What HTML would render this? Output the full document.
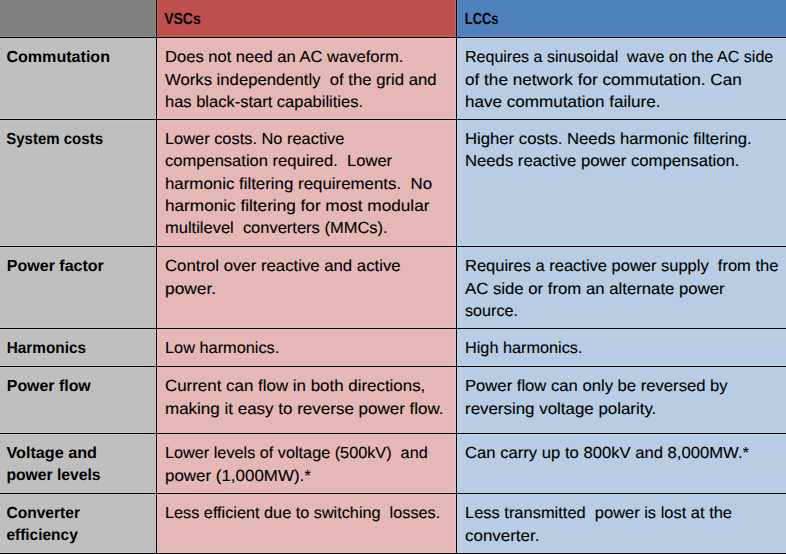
<!DOCTYPE html><html><head><meta charset="utf-8"><style>html,body{margin:0;padding:0;background:#fff;overflow:hidden}svg{display:block}text{text-rendering:geometricPrecision;font-family:"Liberation Sans",sans-serif;font-size:16px;fill:#000;stroke:#000;stroke-width:0.12px}.b{font-weight:bold;stroke-width:0px}</style></head><body>
<svg width="786" height="554" viewBox="0 0 786 554">
<rect x="0" y="0" width="156" height="37" fill="#7F7F7F"/>
<rect x="157" y="0" width="299" height="37" fill="#C0504D"/>
<rect x="457" y="0" width="329" height="37" fill="#4F81BD"/>
<rect x="0" y="38" width="156" height="516" fill="#BFBFBF"/>
<rect x="157" y="38" width="299" height="516" fill="#E5B8B7"/>
<rect x="457" y="38" width="329" height="516" fill="#B8CCE4"/>
<rect x="0" y="36" width="786" height="1" fill="#fff" fill-opacity="0.1"/>
<rect x="0" y="38" width="786" height="1" fill="#fff" fill-opacity="0.1"/>
<rect x="0" y="118" width="786" height="1" fill="#fff" fill-opacity="0.1"/>
<rect x="0" y="120" width="786" height="1" fill="#fff" fill-opacity="0.1"/>
<rect x="0" y="245" width="786" height="1" fill="#fff" fill-opacity="0.1"/>
<rect x="0" y="247" width="786" height="1" fill="#fff" fill-opacity="0.1"/>
<rect x="0" y="327" width="786" height="1" fill="#fff" fill-opacity="0.1"/>
<rect x="0" y="329" width="786" height="1" fill="#fff" fill-opacity="0.1"/>
<rect x="0" y="365" width="786" height="1" fill="#fff" fill-opacity="0.1"/>
<rect x="0" y="367" width="786" height="1" fill="#fff" fill-opacity="0.1"/>
<rect x="0" y="432" width="786" height="1" fill="#fff" fill-opacity="0.1"/>
<rect x="0" y="434" width="786" height="1" fill="#fff" fill-opacity="0.1"/>
<rect x="0" y="492" width="786" height="1" fill="#fff" fill-opacity="0.1"/>
<rect x="0" y="494" width="786" height="1" fill="#fff" fill-opacity="0.1"/>
<rect x="0" y="552" width="786" height="1" fill="#fff" fill-opacity="0.1"/>
<rect x="155" y="0" width="1" height="554" fill="#fff" fill-opacity="0.1"/>
<rect x="157" y="0" width="1" height="554" fill="#fff" fill-opacity="0.1"/>
<rect x="455" y="0" width="1" height="554" fill="#fff" fill-opacity="0.1"/>
<rect x="457" y="0" width="1" height="554" fill="#fff" fill-opacity="0.1"/>
<rect x="0" y="37" width="786" height="1" fill="#000"/>
<rect x="0" y="119" width="786" height="1" fill="#000"/>
<rect x="0" y="246" width="786" height="1" fill="#000"/>
<rect x="0" y="328" width="786" height="1" fill="#000"/>
<rect x="0" y="366" width="786" height="1" fill="#000"/>
<rect x="0" y="433" width="786" height="1" fill="#000"/>
<rect x="0" y="493" width="786" height="1" fill="#000"/>
<rect x="0" y="553" width="786" height="1" fill="#000"/>
<rect x="156" y="0" width="1" height="554" fill="#000"/>
<rect x="456" y="0" width="1" height="554" fill="#000"/>
<text class="b" x="164.20" y="24" textLength="36.59" lengthAdjust="spacingAndGlyphs" xml:space="preserve">VSCs</text>
<text class="b" x="464.80" y="24" textLength="33.66" lengthAdjust="spacingAndGlyphs" xml:space="preserve">LCCs</text>
<text class="b" x="6.40" y="62" textLength="103.60" lengthAdjust="spacingAndGlyphs" xml:space="preserve">Commutation</text>
<text class="b" x="6.20" y="143.5" textLength="96.81" lengthAdjust="spacingAndGlyphs" xml:space="preserve">System costs</text>
<text class="b" x="6.80" y="270.8" textLength="97.02" lengthAdjust="spacingAndGlyphs" xml:space="preserve">Power factor</text>
<text class="b" x="6.80" y="352.8" textLength="79.12" lengthAdjust="spacingAndGlyphs" xml:space="preserve">Harmonics</text>
<text class="b" x="6.80" y="390.5" textLength="83.93" lengthAdjust="spacingAndGlyphs" xml:space="preserve">Power flow</text>
<text class="b" x="6.40" y="457.5" textLength="90.62" lengthAdjust="spacingAndGlyphs" xml:space="preserve">Voltage and</text>
<text class="b" x="6.40" y="480.2" textLength="94.12" lengthAdjust="spacingAndGlyphs" xml:space="preserve">power levels</text>
<text class="b" x="6.40" y="517.5" textLength="73.62" lengthAdjust="spacingAndGlyphs" xml:space="preserve">Converter</text>
<text class="b" x="6.40" y="540.3" textLength="71.36" lengthAdjust="spacingAndGlyphs" xml:space="preserve">efficiency</text>
<text x="165.00" y="62" textLength="238.40" lengthAdjust="spacingAndGlyphs" xml:space="preserve">Does not need an AC waveform.</text>
<text x="165.00" y="84.8" textLength="271.50" lengthAdjust="spacingAndGlyphs" xml:space="preserve">Works independently  of the grid and</text>
<text x="165.00" y="107" textLength="197.99" lengthAdjust="spacingAndGlyphs" xml:space="preserve">has black-start capabilities.</text>
<text x="465.00" y="62" textLength="308.20" lengthAdjust="spacingAndGlyphs" xml:space="preserve">Requires a sinusoidal  wave on the AC side</text>
<text x="465.00" y="84.6" textLength="276.80" lengthAdjust="spacingAndGlyphs" xml:space="preserve">of the network for commutation. Can</text>
<text x="465.00" y="106.8" textLength="195.50" lengthAdjust="spacingAndGlyphs" xml:space="preserve">have commutation failure.</text>
<text x="165.00" y="143.5" textLength="179.40" lengthAdjust="spacingAndGlyphs" xml:space="preserve">Lower costs. No reactive</text>
<text x="165.00" y="166" textLength="227.10" lengthAdjust="spacingAndGlyphs" xml:space="preserve">compensation required.  Lower</text>
<text x="165.00" y="188.5" textLength="267.00" lengthAdjust="spacingAndGlyphs" xml:space="preserve">harmonic filtering requirements.  No</text>
<text x="165.00" y="211" textLength="264.41" lengthAdjust="spacingAndGlyphs" xml:space="preserve">harmonic filtering for most modular</text>
<text x="165.00" y="233.3" textLength="222.60" lengthAdjust="spacingAndGlyphs" xml:space="preserve">multilevel  converters (MMCs).</text>
<text x="465.00" y="143.5" textLength="286.60" lengthAdjust="spacingAndGlyphs" xml:space="preserve">Higher costs. Needs harmonic filtering.</text>
<text x="465.00" y="166" textLength="274.50" lengthAdjust="spacingAndGlyphs" xml:space="preserve">Needs reactive power compensation.</text>
<text x="165.00" y="270.8" textLength="235.61" lengthAdjust="spacingAndGlyphs" xml:space="preserve">Control over reactive and active</text>
<text x="165.00" y="293.5" textLength="51.19" lengthAdjust="spacingAndGlyphs" xml:space="preserve">power.</text>
<text x="465.00" y="270.8" textLength="313.30" lengthAdjust="spacingAndGlyphs" xml:space="preserve">Requires a reactive power supply  from the</text>
<text x="465.00" y="293.5" textLength="259.61" lengthAdjust="spacingAndGlyphs" xml:space="preserve">AC side or from an alternate power</text>
<text x="465.00" y="315.8" textLength="52.98" lengthAdjust="spacingAndGlyphs" xml:space="preserve">source.</text>
<text x="165.00" y="352.8" textLength="114.30" lengthAdjust="spacingAndGlyphs" xml:space="preserve">Low harmonics.</text>
<text x="465.00" y="352.8" textLength="117.40" lengthAdjust="spacingAndGlyphs" xml:space="preserve">High harmonics.</text>
<text x="165.00" y="390.8" textLength="260.30" lengthAdjust="spacingAndGlyphs" xml:space="preserve">Current can flow in both directions,</text>
<text x="165.00" y="413.6" textLength="278.60" lengthAdjust="spacingAndGlyphs" xml:space="preserve">making it easy to reverse power flow.</text>
<text x="465.00" y="390.8" textLength="262.70" lengthAdjust="spacingAndGlyphs" xml:space="preserve">Power flow can only be reversed by</text>
<text x="465.00" y="413.6" textLength="191.30" lengthAdjust="spacingAndGlyphs" xml:space="preserve">reversing voltage polarity.</text>
<text x="165.00" y="457.8" textLength="262.70" lengthAdjust="spacingAndGlyphs" xml:space="preserve">Lower levels of voltage (500kV)  and</text>
<text x="165.00" y="480.8" textLength="145.81" lengthAdjust="spacingAndGlyphs" xml:space="preserve">power (1,000MW).*</text>
<text x="465.00" y="457.5" textLength="284.00" lengthAdjust="spacingAndGlyphs" xml:space="preserve">Can carry up to 800kV and 8,000MW.*</text>
<text x="165.00" y="517.8" textLength="275.20" lengthAdjust="spacingAndGlyphs" xml:space="preserve">Less efficient due to switching  losses.</text>
<text x="465.00" y="517.9" textLength="267.00" lengthAdjust="spacingAndGlyphs" xml:space="preserve">Less transmitted  power is lost at the</text>
<text x="465.00" y="540.5" textLength="74.41" lengthAdjust="spacingAndGlyphs" xml:space="preserve">converter.</text>
</svg></body></html>
